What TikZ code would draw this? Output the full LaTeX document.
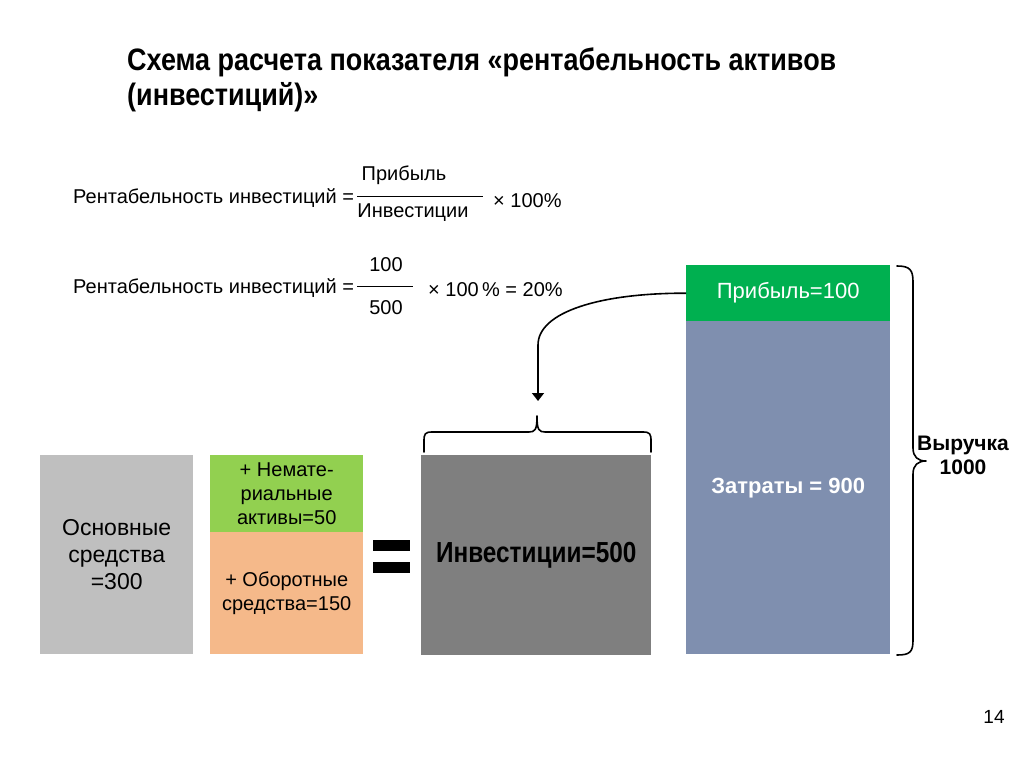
\documentclass[tikz,border=0pt]{standalone}
\usepackage{fontspec}
\setmainfont{Liberation Sans}
\newfontfamily\narrow[FakeStretch=0.87]{Liberation Sans}
\newfontfamily\narrowinv[FakeStretch=0.84]{Liberation Sans}
\usetikzlibrary{arrows.meta}
\definecolor{osgray}{HTML}{BFBFBF}
\definecolor{nmgreen}{HTML}{92D050}
\definecolor{oborange}{HTML}{F5B98A}
\definecolor{dkgray}{HTML}{7F7F7F}
\definecolor{prgreen}{HTML}{00B050}
\definecolor{bluegray}{HTML}{7F8FAF}
\tikzset{
  box/.style={draw=none, inner sep=0pt, anchor=north west, align=center},
  ftext/.style={inner sep=0pt, font=\fontsize{20}{23}\selectfont},
  brc/.style={line width=1.6pt, line cap=round, line join=round},
  fracline/.style={line width=0.8pt},
  ttl/.style={inner sep=0pt, anchor=west, font=\narrow\bfseries\fontsize{31}{34}\selectfont},
}
\begin{document}
\begin{tikzpicture}[x=1pt,y=-1pt]
\useasboundingbox[fill=white] (0,0) rectangle (1024,767);
% title
\node[ttl] (t1) at (127,62) {Схема расчета показателя «рентабельность активов};
\node[ttl] (t2) at (127,97) {(инвестиций)»};
% formula 1
\node[ftext, anchor=west] (f1) at (73,198) {Рентабельность инвестиций =};
\coordinate (l1a) at (357,196); \coordinate (l1b) at (483,196);
\draw[fracline] (l1a) -- (l1b);
\node[ftext] (f1n) at (404,175) {Прибыль};
\node[ftext] (f1d) at (413,213) {Инвестиции};
\node[ftext, anchor=west] (f1m) at (493,201) {× 100\%};
% formula 2
\node[ftext, anchor=west] (f2) at (73,288) {Рентабельность инвестиций =};
\coordinate (l2a) at (357,286); \coordinate (l2b) at (413,286);
\draw[fracline] (l2a) -- (l2b);
\node[ftext] (f2n) at (386,265) {100};
\node[ftext] (f2d) at (386,308) {500};
\node[ftext, anchor=west] (f2m) at (428,290) {× 100\,\% = 20\%};
% boxes
\node[box, fill=osgray, minimum width=153pt, minimum height=199pt, font=\fontsize{23}{27}\selectfont] (os) at (40,455) {Основные\\средства\\=300};
\node[box, fill=nmgreen, minimum width=153pt, minimum height=77pt, font=\fontsize{20}{24}\selectfont] (nm) at (210,455) {+ Немате-\\риальные\\активы=50};
\node[box, fill=oborange, minimum width=153pt, minimum height=122pt, font=\fontsize{20}{24}\selectfont] (ob) at (210,532) {+ Оборотные\\средства=150};
\fill (373,540) rectangle (410,551);
\fill (373,562) rectangle (410,573);
\node[box, fill=dkgray, minimum width=230pt, minimum height=200pt, font=\narrowinv\bfseries\fontsize{29}{32}\selectfont] (inv) at (421,455) {Инвестиции=500};
\node[box, fill=prgreen, minimum width=204pt, minimum height=56pt, text=white, font=\fontsize{22}{25}\selectfont] (pr) at (686,265) {Прибыль=100};
\node[box, fill=bluegray, minimum width=204pt, minimum height=333pt, text=white, font=\bfseries\fontsize{22}{25}\selectfont] (zt) at (686,321) {Затраты = 900};
% arrow
\coordinate (bend) at (538,345);
\coordinate (atip) at (538,401);
\draw[line width=1.6pt, -{Triangle[width=12pt,length=8pt]}] (pr.west) .. controls (600,293) and (538,312) .. (bend) -- (atip);
% top brace
\draw[brc] (424,452) -- (424,441) .. controls (424,434) and (425,432) .. (432,432) -- (529,432) .. controls (535,432) and (537,430) .. (537,416) .. controls (537,430) and (539,432) .. (545,432) -- (643,432) .. controls (650,432) and (651,434) .. (651,441) -- (651,452);
% right brace
\draw[brc] (897,266) .. controls (910,266) and (913,270) .. (913,282) -- (913,448) .. controls (913,457) and (918,461) .. (926,461) .. controls (918,461) and (913,465) .. (913,474) -- (913,640) .. controls (913,652) and (910,655) .. (897,655);
\node[align=center, inner sep=0pt, font=\bfseries\fontsize{21}{24}\selectfont] (vr) at (963,455) {Выручка\\1000};
\node[inner sep=0pt, font=\fontsize{19}{20}\selectfont] (pg) at (994,717) {14};
\end{tikzpicture}
\end{document}
